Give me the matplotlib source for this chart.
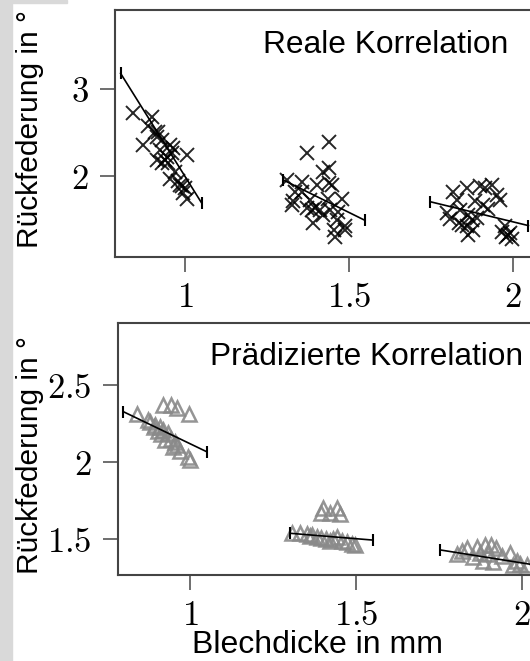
import numpy as np
import matplotlib
matplotlib.use('Agg')
import matplotlib.pyplot as plt
from matplotlib.patches import Rectangle

plt.rcParams['font.family'] = ['Liberation Sans', 'DejaVu Sans']
plt.rcParams['mathtext.fontset'] = 'cm'

# real measurements (top panel, crosses)
real_x = [0.843, 0.899, 0.889, 0.909, 0.919, 0.873, 0.929, 0.955, 0.965, 0.924,
          0.960, 1.006, 0.914, 0.939, 0.950, 0.929, 0.955, 0.980, 0.990, 1.000,
          0.995, 1.006, 0.915, 0.945, 0.970, 0.985,
          1.440, 1.373, 1.440, 1.422, 1.310, 1.358, 1.402, 1.440, 1.447, 1.336,
          1.358, 1.478, 1.437, 1.331, 1.382, 1.326, 1.371, 1.387, 1.412, 1.443,
          1.468, 1.396, 1.463, 1.488, 1.392, 1.453, 1.458, 1.488, 1.420,
          1.818, 1.859, 1.900, 1.935, 1.915, 1.951, 1.961, 1.829, 1.885, 1.910,
          1.798, 1.839, 1.808, 1.864, 1.874, 1.834, 1.859, 1.879, 1.864, 1.976,
          1.966, 1.986, 1.980, 1.996, 1.890, 1.845, 1.925, 1.990]
real_y = [2.72, 2.68, 2.57, 2.51, 2.51, 2.36, 2.41, 2.36, 2.32, 2.30,
          2.26, 2.24, 2.18, 2.18, 2.15, 2.15, 1.97, 1.94, 1.88, 1.86,
          1.80, 1.74, 2.45, 2.22, 2.05, 1.90,
          2.39, 2.27, 2.09, 2.05, 1.95, 1.93, 1.90, 1.92, 1.90, 1.82,
          1.82, 1.74, 1.74, 1.71, 1.72, 1.67, 1.63, 1.61, 1.61, 1.61,
          1.59, 1.63, 1.49, 1.42, 1.46, 1.38, 1.30, 1.38, 1.55,
          1.82, 1.86, 1.88, 1.90, 1.86, 1.78, 1.72, 1.72, 1.71, 1.67,
          1.57, 1.61, 1.51, 1.55, 1.49, 1.46, 1.42, 1.38, 1.32, 1.42,
          1.36, 1.32, 1.30, 1.28, 1.52, 1.44, 1.62, 1.35]

# predicted values (bottom panel, triangles)
pred_x = [0.919, 0.944, 0.960, 0.998, 0.839, 0.874, 0.880, 0.894, 0.909, 0.919,
          0.904, 0.934, 0.944, 0.924, 0.955, 0.960, 0.970, 0.995, 1.000, 0.890,
          0.914, 0.950,
          1.401, 1.442, 1.422, 1.452, 1.396,
          1.306, 1.331, 1.351, 1.366, 1.381, 1.396, 1.422, 1.442, 1.457, 1.472,
          1.487, 1.497, 1.410, 1.432, 1.360,
          1.803, 1.833, 1.863, 1.888, 1.908, 1.923, 1.873, 1.898, 1.853, 1.883,
          1.964, 1.984, 1.974, 2.014, 1.913, 1.940, 1.820, 1.995]
pred_y = [2.37, 2.37, 2.35, 2.31, 2.31, 2.27, 2.26, 2.24, 2.23, 2.21,
          2.20, 2.19, 2.15, 2.14, 2.13, 2.11, 2.07, 2.03, 2.01, 2.23,
          2.18, 2.10,
          1.70, 1.70, 1.67, 1.66, 1.67,
          1.54, 1.54, 1.53, 1.525, 1.515, 1.505, 1.49, 1.515, 1.49, 1.48,
          1.47, 1.46, 1.50, 1.50, 1.52,
          1.40, 1.44, 1.45, 1.46, 1.46, 1.44, 1.41, 1.40, 1.38, 1.36,
          1.41, 1.36, 1.33, 1.33, 1.35, 1.39, 1.42, 1.34]

# regression segments per thickness group (start x, end x / start y, end y)
real_fit_x = [[0.804, 1.051], [1.300, 1.549], [1.747, 2.047]]
real_fit_y = [[3.18, 1.69], [1.954, 1.49], [1.705, 1.43]]
pred_fit_x = [[0.799, 1.050], [1.301, 1.550], [1.753, 2.10]]
pred_fit_y = [[2.327, 2.067], [1.537, 1.493], [1.429, 1.31]]

top_yticks = [2, 3]
bot_yticks = [1.5, 2, 2.5]
xticks = [1, 1.5, 2]


def lbl(v):
    return '$%g$' % v


fig = plt.figure(figsize=(5.30, 6.61), dpi=100)
fig.patches.append(Rectangle((0, 0), 12 / 530, 1, transform=fig.transFigure,
                             color='#d9d9d9', zorder=-1))
fig.patches.append(Rectangle((0, 1 - 3 / 661), 67 / 530, 3 / 661,
                             transform=fig.transFigure, color='#d9d9d9', zorder=-1))

ax1 = fig.add_axes([115 / 530, 1 - 257 / 661, 480 / 530, 247 / 661])
ax2 = fig.add_axes([118 / 530, 1 - 575 / 661, 487 / 530, 252 / 661])

ax1.plot(real_x, real_y, 'x', color='black', ms=10, mew=1.4, alpha=0.85)
for fx, fy in zip(real_fit_x, real_fit_y):
    ax1.plot(fx, fy, '-', color='black', lw=1.2, marker='|', ms=9, mew=1.5)

ax2.plot(pred_x, pred_y, '^', mfc='none', mec='#8a8a8a', ms=9.5, mew=1.8, alpha=0.9)
for fx, fy in zip(pred_fit_x, pred_fit_y):
    ax2.plot(fx, fy, '-', color='black', lw=1.2, marker='|', ms=9, mew=1.5)

ax1.set_xlim(0.787, 2.25)
ax1.set_ylim(1.069, 3.908)
ax2.set_xlim(0.783, 2.25)
ax2.set_ylim(1.266, 2.903)

for ax, yt in ((ax1, top_yticks), (ax2, bot_yticks)):
    ax.set_xticks(xticks)
    ax.set_xticklabels([lbl(v) for v in xticks], fontsize=25)
    ax.set_yticks(yt)
    ax.set_yticklabels([lbl(v) for v in yt], fontsize=25)
    ax.tick_params(direction='out', length=11, width=1.2, color='#555555')
    ax.tick_params(axis='y', pad=8)
    ax.tick_params(axis='x', pad=6)
    for s in ax.spines.values():
        s.set_color('#444444')
        s.set_linewidth(1.5)

fig.text(263 / 530, 1 - 45 / 661, 'Reale Korrelation', fontsize=22.9,
         ha='left', va='center')
fig.text(210 / 530, 1 - 357 / 661, 'Prädizierte Korrelation', fontsize=22.8,
         ha='left', va='center')

fig.text(30 / 530, 1 - 129 / 661, 'Rückfederung in °', fontsize=21.5,
         rotation=90, ha='center', va='center')
fig.text(30 / 530, 1 - 455 / 661, 'Rückfederung in °', fontsize=21.5,
         rotation=90, ha='center', va='center')
fig.text(317 / 530, 1 - 645 / 661, 'Blechdicke in mm', fontsize=23,
         ha='center', va='center')

fig.savefig('out.png', dpi=100)
